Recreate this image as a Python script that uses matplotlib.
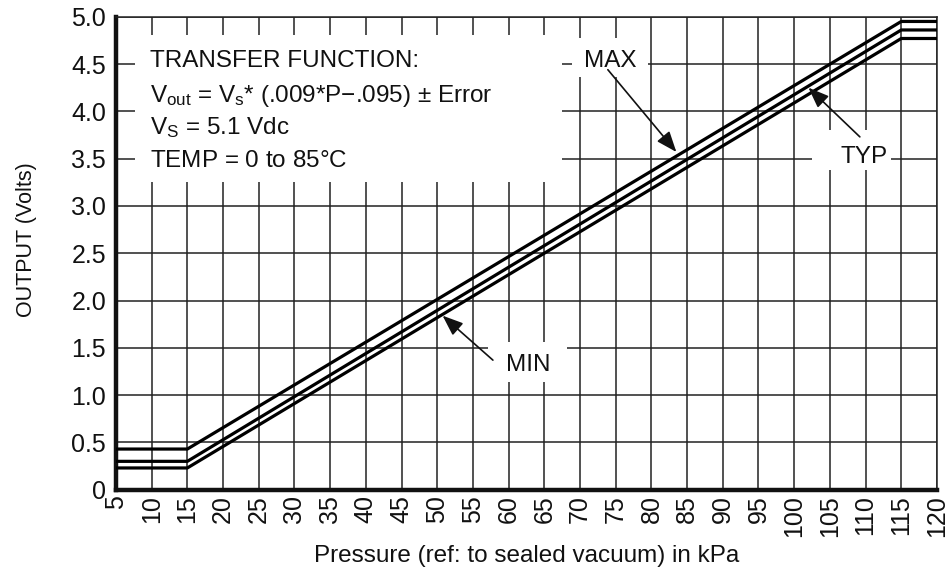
import matplotlib
matplotlib.use('Agg')
import matplotlib.pyplot as plt
from matplotlib.patches import Rectangle

plt.rcParams['font.family'] = ['Liberation Sans', 'DejaVu Sans']
plt.rcParams['mathtext.fontset'] = 'custom'
plt.rcParams['mathtext.rm'] = 'Liberation Sans'
plt.rcParams['mathtext.it'] = 'Liberation Sans:italic'

# breakpoints of the output curves (pressure in kPa, output in volts)
pressure = [5, 15, 115, 120]
v_max = [0.43, 0.43, 4.95, 4.95]
v_typ = [0.30, 0.30, 4.86, 4.86]
v_min = [0.23, 0.23, 4.77, 4.77]

x_ticks = list(range(5, 121, 5))
y_ticks = [0, 0.5, 1.0, 1.5, 2.0, 2.5, 3.0, 3.5, 4.0, 4.5, 5.0]
y_labels = ['0', '0.5', '1.0', '1.5', '2.0', '2.5', '3.0', '3.5', '4.0', '4.5', '5.0']

info_lines = [
    'TRANSFER FUNCTION:',
    r'V$_{\mathregular{out}}$ = V$_{\mathregular{s}}$* (.009*P$-$.095) $\pm$ Error',
    r'V$_{\mathregular{S}}$ = 5.1 Vdc',
    r'TEMP = 0 to 85$\degree$C',
]

ink = '#111111'

fig = plt.figure(figsize=(9.52, 5.67), dpi=100)
ax = fig.add_axes([0.1218, 0.1363, 0.8624, 0.8342])

for vals in (v_max, v_typ, v_min):
    ax.plot(pressure, vals, color='black', lw=2.3, zorder=3, solid_capstyle='butt')

ax.set_xlim(5, 120)
ax.set_ylim(0, 5.0)
ax.set_xticks(x_ticks)
ax.set_xticklabels([str(t) for t in x_ticks], rotation=90, fontsize=18)
ax.set_yticks(y_ticks)
ax.set_yticklabels(y_labels, fontsize=18)
ax.tick_params(length=0, colors=ink)
ax.tick_params(axis='x', pad=4)
ax.tick_params(axis='y', pad=7)

ax.grid(True, color='#222222', lw=1.1)
ax.set_axisbelow(True)
for side in ('left', 'bottom'):
    ax.spines[side].set_linewidth(3.2)
    ax.spines[side].set_color(ink)
for side in ('top', 'right'):
    ax.spines[side].set_linewidth(1.1)
    ax.spines[side].set_color('#222222')

ax.set_xlabel('Pressure (ref: to sealed vacuum) in kPa', fontsize=17.5, color=ink, labelpad=6)
ax.set_ylabel('OUTPUT (Volts)', fontsize=15.5, color=ink)
ax.yaxis.set_label_coords(-0.096, 0.528)

# white areas that hide the grid behind the labels
for (x0, y0, w, h) in [(7.66, 3.25, 59.84, 1.56), (68.9, 4.36, 10.6, 0.42),
                       (102.5, 3.38, 11.0, 0.42), (57.1, 1.14, 11.1, 0.425)]:
    ax.add_patch(Rectangle((x0, y0), w, h, facecolor='white', edgecolor='none', zorder=1))

for line, yb in zip(info_lines, [4.47, 4.10, 3.76, 3.41]):
    ax.text(9.76, yb, line, fontsize=17.5, va='baseline', ha='left', color=ink, zorder=4)

arrow = dict(arrowstyle='-|>,head_length=0.9,head_width=0.35', color=ink,
             lw=1.2, mutation_scale=14, shrinkA=0, shrinkB=0)
ax.annotate('', xy=(83.5, 3.57), xytext=(73.9, 4.44), arrowprops=arrow, zorder=4)
ax.annotate('', xy=(102.0, 4.25), xytext=(109.2, 3.73), arrowprops=arrow, zorder=4)
ax.annotate('', xy=(50.75, 1.84), xytext=(57.8, 1.37), arrowprops=arrow, zorder=4)

ax.text(74.2, 4.47, 'MAX', fontsize=17.5, ha='center', va='baseline', color=ink, zorder=4)
ax.text(109.8, 3.45, 'TYP', fontsize=17.5, ha='center', va='baseline', color=ink, zorder=4)
ax.text(62.8, 1.26, 'MIN', fontsize=17.5, ha='center', va='baseline', color=ink, zorder=4)

fig.savefig('out.png', dpi=100)
